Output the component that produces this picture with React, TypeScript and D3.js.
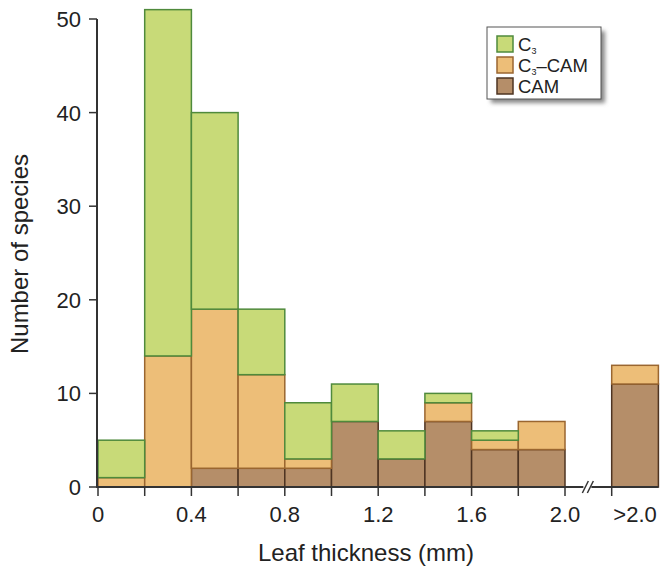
import React, { useEffect, useRef } from "react";
import * as d3 from "d3";

// leaf thickness bins (mm), the 2.0–2.2 slot is the axis break
const binStart = [0, 0.2, 0.4, 0.6, 0.8, 1.0, 1.2, 1.4, 1.6, 1.8, 2.2];
const binWidth = 0.2;

const c3 = [4, 37, 21, 7, 6, 4, 3, 1, 1, 0, 0];
const c3cam = [1, 14, 17, 10, 1, 0, 0, 2, 1, 3, 2];
const cam = [0, 0, 2, 2, 2, 7, 3, 7, 4, 4, 11];

const seriesKeys = ["CAM", "C3CAM", "C3"];
const fills: Record<string, string> = { C3: "#c8da78", C3CAM: "#edbe78", CAM: "#b58e69" };
const strokes: Record<string, string> = { C3: "#4f8a3c", C3CAM: "#9a6630", CAM: "#4e3422" };

const xTickValues = [0, 0.2, 0.4, 0.6, 0.8, 1.0, 1.2, 1.4, 1.6, 1.8, 2.0, 2.2];
const xLabels = [
  { v: 0, t: "0" },
  { v: 0.4, t: "0.4" },
  { v: 0.8, t: "0.8" },
  { v: 1.2, t: "1.2" },
  { v: 1.6, t: "1.6" },
  { v: 2.0, t: "2.0" },
  { v: 2.3, t: ">2.0" },
];
const yTicks = [0, 10, 20, 30, 40, 50];

const FONT = "Liberation Sans, Arial, sans-serif";

export default function App() {
  const ref = useRef<SVGSVGElement>(null);

  useEffect(() => {
    const svg = d3.select(ref.current);
    svg.selectAll("*").remove();

    const x = d3.scaleLinear().domain([0, 2]).range([98, 565]);
    const y = d3.scaleLinear().domain([0, 50]).range([487, 19]);

    const rows = binStart.map((b, i) => ({ b, C3: c3[i], C3CAM: c3cam[i], CAM: cam[i] }));
    const stacked = d3.stack<any>().keys(seriesKeys)(rows);

    const defs = svg.append("defs");
    defs.append("filter").attr("id", "sh").append("feGaussianBlur").attr("stdDeviation", 2);

    stacked.forEach((s) => {
      svg.append("g")
        .selectAll("rect")
        .data(s.filter((d) => d[1] - d[0] > 0))
        .join("rect")
        .attr("x", (d) => x(d.data.b))
        .attr("width", x(binWidth) - x(0))
        .attr("y", (d) => y(d[1]))
        .attr("height", (d) => y(d[0]) - y(d[1]))
        .attr("fill", fills[s.key])
        .attr("stroke", strokes[s.key])
        .attr("stroke-width", 1.5);
    });

    const axisColor = "#333";

    // y axis
    svg.append("line")
      .attr("x1", 97).attr("x2", 97)
      .attr("y1", y(50)).attr("y2", y(0) + 1)
      .attr("stroke", axisColor).attr("stroke-width", 2);
    const yt = svg.append("g");
    yt.selectAll("line").data(yTicks).join("line")
      .attr("x1", 89).attr("x2", 97)
      .attr("y1", (d) => y(d)).attr("y2", (d) => y(d))
      .attr("stroke", axisColor).attr("stroke-width", 1.5);
    yt.selectAll("text").data(yTicks).join("text")
      .attr("x", 81).attr("y", (d) => y(d))
      .attr("dy", "0.36em")
      .attr("text-anchor", "end")
      .attr("font-family", FONT).attr("font-size", 22)
      .attr("fill", "#222")
      .text((d) => d);

    // x axis
    svg.append("line")
      .attr("x1", 96).attr("x2", x(2.4))
      .attr("y1", y(0)).attr("y2", y(0))
      .attr("stroke", axisColor).attr("stroke-width", 2);
    const xt = svg.append("g");
    xt.selectAll("line").data(xTickValues).join("line")
      .attr("x1", (d) => x(d)).attr("x2", (d) => x(d))
      .attr("y1", y(0)).attr("y2", y(0) + 9)
      .attr("stroke", axisColor).attr("stroke-width", 1.5);
    xt.selectAll("text").data(xLabels).join("text")
      .attr("x", (d) => x(d.v)).attr("y", 522)
      .attr("text-anchor", "middle")
      .attr("font-family", FONT).attr("font-size", 22)
      .attr("fill", "#222")
      .text((d) => d.t);

    // axis break
    const bx = x(2.1);
    svg.append("rect")
      .attr("x", bx - 5).attr("y", y(0) - 6)
      .attr("width", 8).attr("height", 12)
      .attr("fill", "white");
    [-3, 2].forEach((o) => {
      svg.append("line")
        .attr("x1", bx + o - 3).attr("x2", bx + o + 3)
        .attr("y1", y(0) + 6).attr("y2", y(0) - 6)
        .attr("stroke", axisColor).attr("stroke-width", 1.5);
    });

    // axis titles
    svg.append("text")
      .attr("x", 366).attr("y", 561)
      .attr("text-anchor", "middle")
      .attr("font-family", FONT).attr("font-size", 24)
      .attr("fill", "#222")
      .text("Leaf thickness (mm)");
    svg.append("text")
      .attr("transform", "translate(28,254) rotate(-90)")
      .attr("text-anchor", "middle")
      .attr("font-family", FONT).attr("font-size", 24)
      .attr("fill", "#222")
      .text("Number of species");

    // legend
    const lg = svg.append("g").attr("transform", "translate(487,27)");
    lg.append("rect")
      .attr("x", 4).attr("y", 4).attr("width", 114).attr("height", 72)
      .attr("fill", "#888").attr("filter", "url(#sh)");
    lg.append("rect")
      .attr("x", 0).attr("y", 0).attr("width", 114).attr("height", 72)
      .attr("fill", "white").attr("stroke", "#555").attr("stroke-width", 1);
    const items = [
      { k: "C3", main: "C", sub: "3", rest: "" },
      { k: "C3CAM", main: "C", sub: "3", rest: "\u2013CAM" },
      { k: "CAM", main: "CAM", sub: "", rest: "" },
    ];
    items.forEach((it, i) => {
      const yy = 9 + i * 21;
      lg.append("rect")
        .attr("x", 10).attr("y", yy).attr("width", 16).attr("height", 16)
        .attr("fill", fills[it.k]).attr("stroke", strokes[it.k]).attr("stroke-width", 1.5);
      const t = lg.append("text")
        .attr("x", 31).attr("y", yy + 15)
        .attr("font-family", FONT).attr("font-size", 18.5)
        .attr("fill", "#222");
      t.append("tspan").text(it.main);
      if (it.sub) {
        t.append("tspan").attr("font-size", 9).attr("dy", 3).text(it.sub);
      }
      if (it.rest) {
        t.append("tspan").attr("dy", -3).text(it.rest);
      }
    });
  }, []);

  return (
    <svg
      ref={ref}
      width={660}
      height={567}
      style={{ position: "absolute", left: 0, top: 0, background: "white" }}
    />
  );
}
